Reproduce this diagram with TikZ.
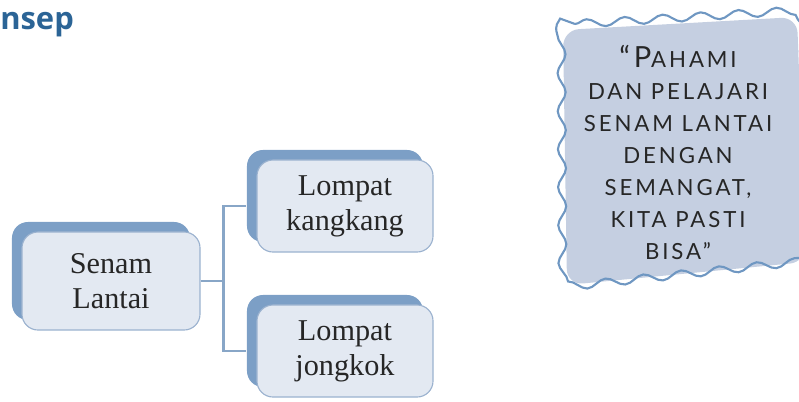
\documentclass[tikz,border=0pt]{standalone}
\usepackage{fontspec}
\setmainfont{Liberation Serif}
\newfontfamily\titlefont{Open Sans}
\newfontfamily\mottofont[LetterSpace=13]{Lato}
\usetikzlibrary{shadows,decorations.pathmorphing}
\definecolor{shadeblue}{HTML}{7C9FC6}
\definecolor{boxfill}{HTML}{E3E9F2}
\definecolor{boxline}{HTML}{9BB2CF}
\definecolor{linkblue}{HTML}{88A6C7}
\definecolor{titleblue}{HTML}{2B6496}
\definecolor{quotefill}{HTML}{C5CFE1}
\definecolor{waveblue}{HTML}{6F97C2}
\newcommand{\mottocap}[1]{{\fontsize{20.7}{22.7}\selectfont #1}}
\begin{document}
\begin{tikzpicture}[
    x=0.025cm, y=-0.025cm,
    topic/.style={
        draw=boxline,
        line width=0.8pt,
        rounded corners=0.4cm,
        fill=boxfill,
        minimum width=4.4cm,
        minimum height=2.3cm,
        align=center,
        text=black!85,
        font=\fontsize{21.5}{25}\selectfont,
        drop shadow={shadow xshift=-0.25cm, shadow yshift=0.25cm,
            fill=shadeblue, opacity=1, draw=none}
    },
    link/.style={draw=linkblue, line width=1.6pt},
    wave/.style={draw=waveblue, line width=1.5pt,
        decorate, decoration={snake, segment length=0.95cm, amplitude=0.1cm}}
]
    \useasboundingbox (0,0) rectangle (799,401);

    \node[anchor=base west, inner sep=0, text=titleblue,
        font=\titlefont\bfseries\fontsize{22}{26}\selectfont] (title) at (0,29) {nsep};

    \node[topic, minimum width=4.45cm, minimum height=2.45cm] (senam) at (111,281) {Senam\\Lantai};
    \node[topic] (kangkang) at (345,206) {Lompat\\kangkang};
    \node[topic] (jongkok) at (345,351) {Lompat\\jongkok};

    \draw[link] (senam.east) -- ++(0.575cm,0) coordinate (fork);
    \draw[link] (fork) |- ([xshift=-0.25cm]kangkang.west);
    \draw[link] (fork) |- ([xshift=-0.25cm]jongkok.west);

    % motto card
    \begin{scope}
        \clip (0,0) rectangle (799,401);
        \fill[quotefill, rounded corners=0.4cm] (563,30) -- (797,17) -- (806,262) -- (567,285) -- cycle;
        \draw[wave] (575,24) -- (772,12) .. controls (792,11) .. (793,31)
            -- (800,243) .. controls (801,263) .. (781,265)
            -- (577,287) .. controls (557,289) .. (556,267)
            -- (555,45) .. controls (555,25) .. (575,24);
    \end{scope}
    \node[anchor=north, inner sep=0, align=center, text=black!85,
        font=\mottofont\fontsize{15.8}{22.7}\selectfont]
        (motto) at (678,45) {\mottocap{“P}AHAMI\\DAN PELAJARI\\SENAM LANTAI\\DENGAN\\SEMANGAT,\\KITA PASTI\\BISA”};
\end{tikzpicture}
\end{document}
